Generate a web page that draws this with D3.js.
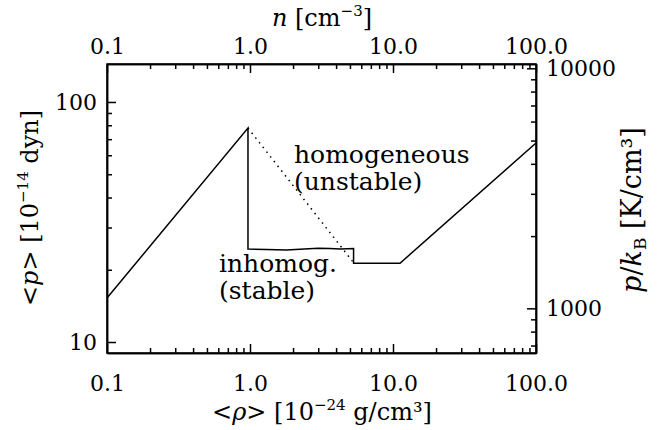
<!DOCTYPE html>
<html>
<head>
<meta charset="utf-8">
<script src="https://cdn.jsdelivr.net/npm/d3@7"></script>
<style>
    body { margin: 0; background: #fff; }
    svg { display: block; }
    text { font-family: "DejaVu Serif", serif; fill: #000; }
    .axis path, .axis line { stroke: #000; stroke-width: 1.5; }
</style>
</head>
<body>
<svg id="Chart_svg" width="662" height="430"></svg>
<script>
// density <rho> [1e-24 g/cm3] vs pressure <p> [1e-14 dyn]
var rhoTicks = [0.1, 1, 10, 100];
var rhoTickLabels = ["0.1", "1.0", "10.0", "100.0"];
var pTicks = [10, 100];
var pTickLabels = ["10", "100"];
var pkTicks = [1000, 10000];
var pkTickLabels = ["1000", "10000"];

// p/kB in K/cm3 per 1e-14 dyn
var pToPk = 72.4;

var stableCurve = [
    [0.1, 15.25], [0.968, 77.9], [0.968, 24.4], [1.3, 24.3], [1.8, 24.2],
    [2.4, 24.4], [3.0, 24.6], [3.6, 24.5], [4.3, 24.4], [5.3, 24.5],
    [5.3, 21.3], [11.2, 21.3], [100, 67.5]
];
var unstableCurve = [[0.968, 77.9], [5.3, 21.4]];

var svg = d3.select("#Chart_svg"),
    plotL = 107, plotR = 536, plotT = 64, plotB = 353;

var x = d3.scaleLog().domain([0.1, 100]).range([plotL, plotR]),
    y = d3.scaleLog().domain([9.0, 143.96]).range([plotB, plotT]),
    yRight = d3.scaleLog().domain([9.0 * pToPk, 143.96 * pToPk]).range([plotB, plotT]);

function minorTicks(lo, hi) {
    var out = [];
    for (var d = Math.pow(10, Math.floor(Math.log10(lo))); d < hi; d *= 10) {
        for (var k = 2; k <= 9; k++) {
            var v = k * d;
            if (v > lo && v < hi) out.push(v);
        }
    }
    return out;
}

var majorLen = 9, minorLen = 5;

// bottom axis
svg.append("g")
    .attr("class", "axis")
    .attr("transform", "translate(0," + plotB + ")")
    .call(d3.axisBottom(x).tickValues(rhoTicks).tickSizeInner(-majorLen).tickSizeOuter(0).tickPadding(22)
        .tickFormat(function (d, i) { return rhoTickLabels[i]; }))
    .call(function (g) { g.selectAll("text").style("font-size", "22px"); });
svg.append("g")
    .attr("class", "axis")
    .attr("transform", "translate(0," + plotB + ")")
    .call(d3.axisBottom(x).tickValues(minorTicks(0.1, 100)).tickSizeInner(-minorLen).tickSizeOuter(0).tickFormat(""));

// top axis (n)
svg.append("g")
    .attr("class", "axis")
    .attr("transform", "translate(0," + plotT + ")")
    .call(d3.axisTop(x).tickValues(rhoTicks).tickSizeInner(-majorLen).tickSizeOuter(0).tickPadding(10)
        .tickFormat(function (d, i) { return rhoTickLabels[i]; }))
    .call(function (g) { g.selectAll("text").style("font-size", "22px"); });
svg.append("g")
    .attr("class", "axis")
    .attr("transform", "translate(0," + plotT + ")")
    .call(d3.axisTop(x).tickValues(minorTicks(0.1, 100)).tickSizeInner(-minorLen).tickSizeOuter(0).tickFormat(""));

// left axis
svg.append("g")
    .attr("class", "axis")
    .attr("transform", "translate(" + plotL + ",0)")
    .call(d3.axisLeft(y).tickValues(pTicks).tickSizeInner(-majorLen).tickSizeOuter(0).tickPadding(10)
        .tickFormat(function (d, i) { return pTickLabels[i]; }))
    .call(function (g) { g.selectAll("text").style("font-size", "22px"); });
svg.append("g")
    .attr("class", "axis")
    .attr("transform", "translate(" + plotL + ",0)")
    .call(d3.axisLeft(y).tickValues(minorTicks(9.0, 143.96)).tickSizeInner(-minorLen).tickSizeOuter(0).tickFormat(""));

// right axis (p/kB)
svg.append("g")
    .attr("class", "axis")
    .attr("transform", "translate(" + plotR + ",0)")
    .call(d3.axisRight(yRight).tickValues(pkTicks).tickSizeInner(-majorLen).tickSizeOuter(0).tickPadding(10)
        .tickFormat(function (d, i) { return pkTickLabels[i]; }))
    .call(function (g) { g.selectAll("text").style("font-size", "22px"); });
svg.append("g")
    .attr("class", "axis")
    .attr("transform", "translate(" + plotR + ",0)")
    .call(d3.axisRight(yRight).tickValues(minorTicks(9.0 * pToPk, 143.96 * pToPk)).tickSizeInner(-minorLen).tickSizeOuter(0).tickFormat(""));

// frame
svg.append("rect")
    .attr("x", plotL).attr("y", plotT)
    .attr("width", plotR - plotL).attr("height", plotB - plotT)
    .attr("fill", "none").attr("stroke", "#000").attr("stroke-width", 1.5);

var line = d3.line()
    .x(function (d) { return x(d[0]); })
    .y(function (d) { return y(d[1]); });

svg.append("path")
    .attr("d", line(stableCurve))
    .attr("fill", "none").attr("stroke", "#000").attr("stroke-width", 1.5);

svg.append("path")
    .attr("d", line(unstableCurve))
    .attr("fill", "none").attr("stroke", "#000").attr("stroke-width", 1.5)
    .attr("stroke-dasharray", "1.5,4.5");

// annotations
function label(tx, ty, lines) {
    var t = svg.append("text").attr("x", tx).attr("y", ty).style("font-size", "25px");
    lines.forEach(function (s, i) {
        t.append("tspan").attr("x", tx).attr("dy", i === 0 ? 0 : 27).text(s);
    });
}
label(294, 163, ["homogeneous", "(unstable)"]);
label(219, 272, ["inhomog.", "(stable)"]);

// axis titles
var bt = svg.append("text").attr("x", 322).attr("y", 420).attr("text-anchor", "middle").style("font-size", "24px");
bt.append("tspan").text("<");
bt.append("tspan").style("font-style", "italic").text("ρ");
bt.append("tspan").text("> [10");
bt.append("tspan").attr("dy", -10).style("font-size", "15px").text("−24");
bt.append("tspan").attr("dy", 10).text(" g/cm³]");

var tt = svg.append("text").attr("x", 322).attr("y", 26).attr("text-anchor", "middle").style("font-size", "24px");
tt.append("tspan").style("font-style", "italic").text("n");
tt.append("tspan").text(" [cm");
tt.append("tspan").attr("dy", -10).style("font-size", "15px").text("−3");
tt.append("tspan").attr("dy", 10).text("]");

var lt = svg.append("text").attr("transform", "translate(38,208) rotate(-90)").attr("text-anchor", "middle").style("font-size", "24px");
lt.append("tspan").text("<");
lt.append("tspan").style("font-style", "italic").text("p");
lt.append("tspan").text("> [10");
lt.append("tspan").attr("dy", -10).style("font-size", "15px").text("−14");
lt.append("tspan").attr("dy", 10).text(" dyn]");

var rt = svg.append("text").attr("transform", "translate(641,210) rotate(-90)").attr("text-anchor", "middle").style("font-size", "27px");
rt.append("tspan").style("font-style", "italic").text("p");
rt.append("tspan").text("/");
rt.append("tspan").style("font-style", "italic").text("k");
rt.append("tspan").attr("dy", 5).style("font-size", "17px").text("B");
rt.append("tspan").attr("dy", -5).text(" [K/cm³]");
</script>
</body>
</html>
